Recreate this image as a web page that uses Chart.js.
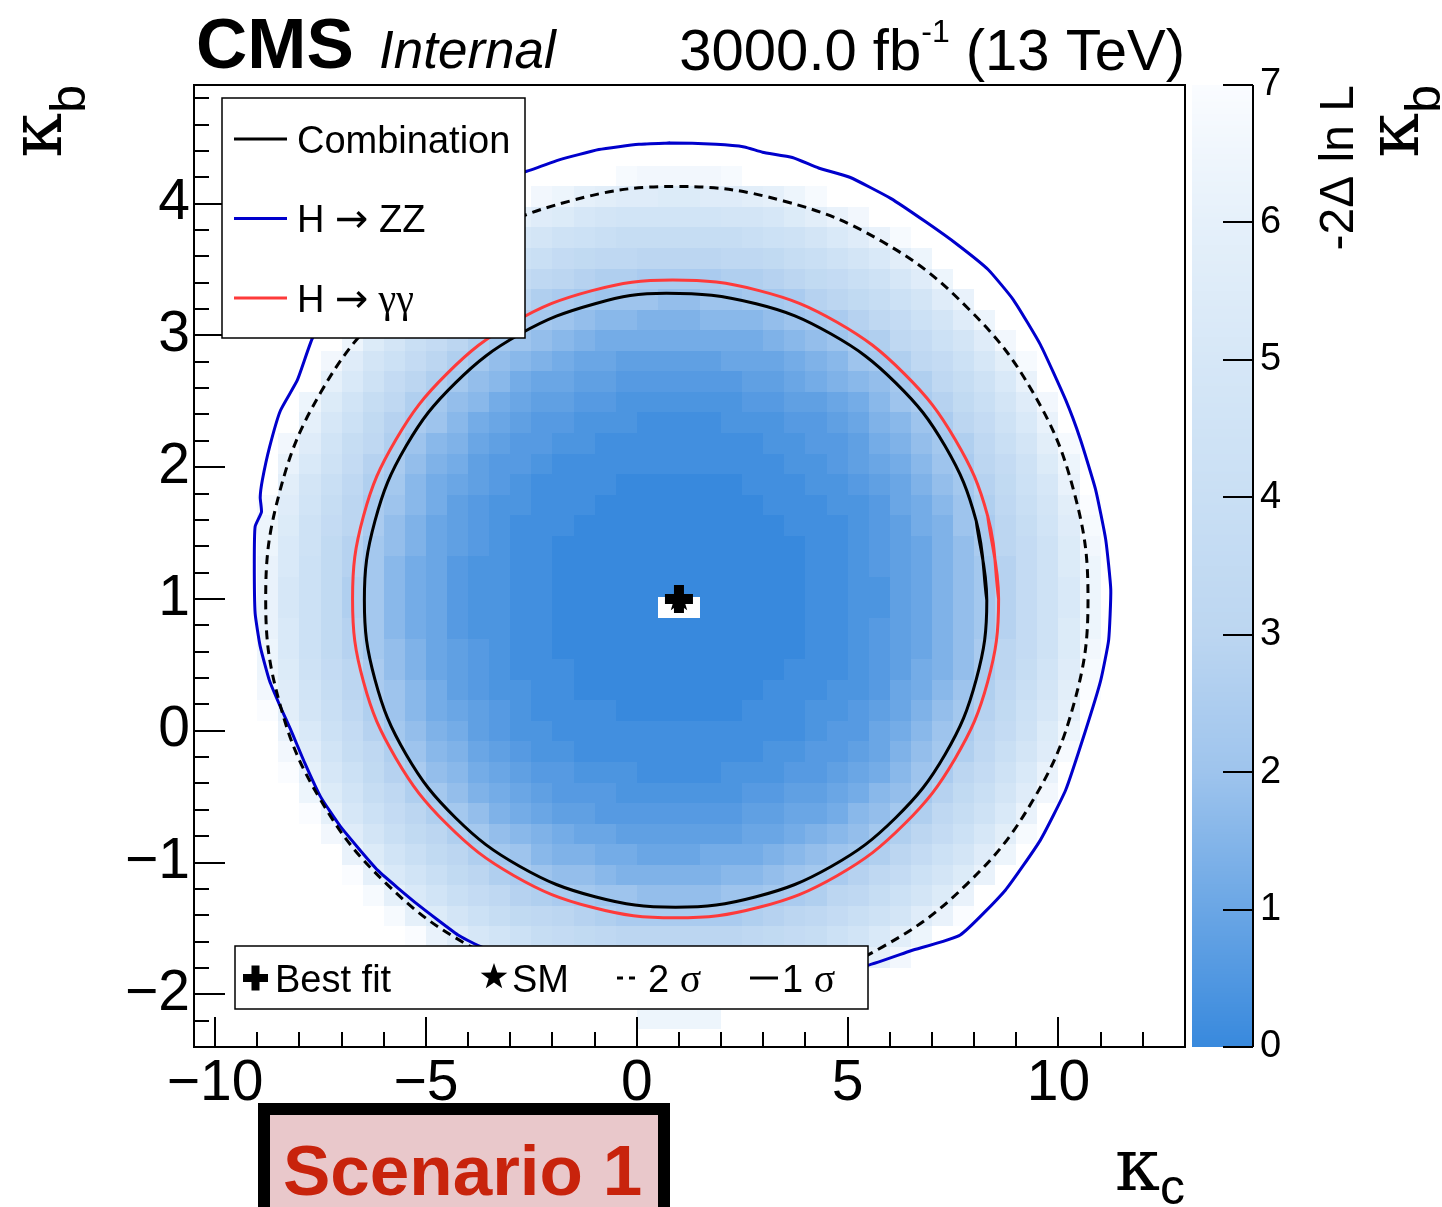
<!DOCTYPE html>
<html>
<head>
<meta charset="utf-8">
<title>kappa_b vs kappa_c likelihood scan</title>
<script src="https://cdn.jsdelivr.net/npm/chart.js@4.4.0/dist/chart.umd.min.js"></script>
<style>
  html, body { margin: 0; padding: 0; background: #fff; }
  #wrap { width: 1442px; height: 1207px; }
</style>
</head>
<body>
<div id="wrap"><canvas id="myChart" width="1442" height="1207"></canvas></div>
<script>
// ---- data ----
var xTicks = [-10, -5, 0, 5, 10];
var yTicks = [-2, -1, 0, 1, 2, 3, 4];
var zTicks = [0, 1, 2, 3, 4, 5, 6, 7];

// heat map bins: kappa_c bin centres (0.5 wide), kappa_b bin centres (0.156 wide, top row first)
var kcCenters = [-8.75, -8.25, -7.75, -7.25, -6.75, -6.25, -5.75, -5.25, -4.75, -4.25,
  -3.75, -3.25, -2.75, -2.25, -1.75, -1.25, -0.75, -0.25, 0.25, 0.75,
  1.25, 1.75, 2.25, 2.75, 3.25, 3.75, 4.25, 4.75, 5.25, 5.75,
  6.25, 6.75, 7.25, 7.75, 8.25, 8.75, 9.25, 9.75, 10.25, 10.75];
var kbCenters = [4.209, 4.053, 3.897, 3.741, 3.585, 3.429, 3.273, 3.117, 2.961, 2.805,
  2.649, 2.493, 2.337, 2.181, 2.025, 1.869, 1.713, 1.557, 1.401, 1.245,
  1.089, 0.933, 0.777, 0.621, 0.465, 0.309, 0.153, -0.003, -0.159, -0.315,
  -0.471, -0.627, -0.783, -0.939, -1.095, -1.251, -1.407, -1.563, -1.719, -1.875,
  -2.031, -2.187];
var kcBinWidth = 0.5;
var kbBinWidth = 0.156;

// -2 delta lnL per cell, one char per cell: base-36 digit = value * 5, '.' = empty cell
var nllRows = [
  ".................yxxxxy.................",
  ".............xwutssrrsstuwy.............",
  "...........xusrponnnnnooprtvx...........",
  ".........xuspomlkjjjjjjklmoqsvy.........",
  "........wtqnlkihggffffgghjkmoqtw........",
  "......zvromkigfeddccccddefhikmpsw.......",
  ".....zvroljgfdcbaaa99aabbcefhjlosv......",
  ".....vrnkigecba9887778889abcegilosw.....",
  "....wrokifdba98766666666789acdgilosx....",
  "...xsolifdb98765544444555678abdgilpty...",
  "...uqmifdb98655443333334456789bdgjmqv...",
  "..wrnjgdb986544332222223344568acehkosx..",
  "..uplheca8654332221111222334578acfimqv..",
  ".xsnjgda875433221111111122334679bdgkoty.",
  ".vqmiec9764332111111111112234568acfimrw.",
  ".tokgdb86543211110000001112234579behlpv.",
  "ysnjfca86432211100000000111223568adgkotz",
  "wrmifc975432111000000000011123467acfjnsy",
  "wqmheb9754321100000000000011234579cfimrx",
  "vqlheb8653221100000000000011234579beimrw",
  "vplhdb8653221100000000000011224579beimqw",
  "vplhdb8653221100000..0000011224579beimqw",
  "vqlheb8653221100000000000011234579beimrw",
  "wqlheb9754321100000000000011234579cfimrx",
  "wrmifc9754321110000000000111234679cfjnsy",
  "xsnjfca86432211000000000111223568adgkotz",
  "ztokgda86543211110000001112234579behlpu.",
  ".vqlieb9764322111111111111233568acfimrw.",
  ".xsnjgda875432211111111122334579bdgkosy.",
  ".zuplhec98654332221111222334568acfimqv..",
  "..wrnjgdb9765433322222233445689behkosx..",
  "..zuplifdb97654433333334455689bdgjmqv...",
  "...xsokhfdb987655444444556789bdfilpty...",
  "....vrnkhfdba87766555666789abdfilosw....",
  "....zuqnkhfdca99877777889abcegilorv.....",
  ".....yuqnkigedcbaa9999aabcdfgjlorv......",
  "......yuroljhgfedccccccdefgikmosvz......",
  ".......zvspnljihgffffffghijlnqtw........",
  ".........wurpnmkjjiiiijklmnprux.........",
  "..........ywtrqponmmmmnopqsuw...........",
  "............zxvtsrrrrrssuvx.............",
  "..................wwww.................."
];

// contours [kappa_c, kappa_b]
var comb1Sigma = [[8.30, 0.99], [8.05, 1.59], [7.31, 2.16], [6.14, 2.64], [4.61, 3.01], [2.83, 3.24],
  [0.70, 3.32], [-0.99, 3.24], [-2.77, 3.01], [-4.30, 2.64], [-5.47, 2.16], [-6.21, 1.59],
  [-6.46, 0.99], [-6.21, 0.39], [-5.47, -0.18], [-4.30, -0.66], [-2.77, -1.03], [-0.99, -1.26],
  [0.92, -1.34], [2.83, -1.26], [4.61, -1.03], [6.14, -0.66], [7.31, -0.18], [8.05, 0.39]];
var comb2Sigma = [[0.95, -2.05], [3.48, -1.95], [5.83, -1.64], [7.84, -1.16], [9.39, -0.53], [10.37, 0.21],
  [10.70, 1.00], [10.37, 1.81], [9.39, 2.57], [7.84, 3.21], [5.83, 3.71], [3.48, 4.02],
  [0.95, 4.13], [-1.58, 4.02], [-3.93, 3.71], [-5.94, 3.21], [-7.49, 2.57], [-8.47, 1.81],
  [-8.80, 1.00], [-8.47, 0.21], [-7.49, -0.53], [-5.94, -1.16], [-3.93, -1.64], [-1.58, -1.95]];
var hggContour = [[8.58, 1.00], [8.32, 1.63], [7.55, 2.21], [6.34, 2.71], [4.75, 3.10], [2.90, 3.34],
  [0.85, 3.42], [-1.06, 3.34], [-2.91, 3.10], [-4.50, 2.71], [-5.71, 2.21], [-6.48, 1.63],
  [-6.74, 1.00], [-6.48, 0.37], [-5.71, -0.21], [-4.50, -0.71], [-2.91, -1.10], [-1.06, -1.34],
  [0.92, -1.42], [2.90, -1.34], [4.75, -1.10], [6.34, -0.71], [7.55, -0.21], [8.32, 0.37]];
var hzzContour = [[0.05, 4.45], [0.79, 4.46], [1.88, 4.45], [2.55, 4.43], [2.98, 4.39], [3.69, 4.35],
  [4.31, 4.27], [5.05, 4.20], [6.02, 4.04], [6.86, 3.86], [7.60, 3.69], [8.33, 3.50], [8.93, 3.27],
  [9.57, 2.93], [10.17, 2.51], [10.52, 2.21], [10.88, 1.83], [11.12, 1.45], [11.24, 1.07],
  [11.19, 0.69], [11.00, 0.38], [10.64, 0.00], [10.17, -0.45], [9.57, -0.83], [8.74, -1.21],
  [7.67, -1.55], [6.50, -1.67], [5.48, -1.78], [3.50, -1.90], [1.00, -1.98], [-1.50, -1.92],
  [-3.76, -1.63], [-4.24, -1.55], [-5.19, -1.32], [-6.14, -1.06], [-7.02, -0.73], [-7.50, -0.50],
  [-7.88, -0.24], [-8.21, 0.01], [-8.45, 0.18], [-8.71, 0.38], [-8.93, 0.64], [-9.05, 0.89],
  [-9.07, 1.27], [-9.05, 1.55], [-8.90, 1.66], [-8.93, 1.77], [-8.88, 1.90], [-8.71, 2.15],
  [-8.45, 2.43], [-8.05, 2.66], [-7.69, 2.98], [-6.80, 3.50], [-5.50, 3.95], [-4.00, 4.18],
  [-2.67, 4.24], [-1.86, 4.33], [-0.90, 4.41]];
var bestFit = [[1.0, 1.0]];
var smPoint = [[1.0, 1.0]];

// ---- colours ----
var zStops = [0, 1, 2, 3, 4, 5, 6, 7];
var zColours = [[56, 137, 221], [106, 166, 229], [158, 196, 237], [188, 214, 241],
  [201, 223, 244], [214, 231, 247], [229, 240, 250], [250, 252, 255]];

function colourFor(v) {
  if (v <= zStops[0]) return 'rgb(' + zColours[0].join(',') + ')';
  for (var i = 1; i < zStops.length; i++) {
    if (v <= zStops[i]) {
      var t = (v - zStops[i - 1]) / (zStops[i] - zStops[i - 1]);
      var a = zColours[i - 1], b = zColours[i];
      return 'rgb(' + [0, 1, 2].map(function (k) { return Math.round(a[k] + (b[k] - a[k]) * t); }).join(',') + ')';
    }
  }
  return 'rgb(' + zColours[zColours.length - 1].join(',') + ')';
}

// closed curves: run past the start by two points so the spline has no corner at the seam
function toPoints(arr, close) {
  var pts = arr.map(function (p) { return { x: p[0], y: p[1] }; });
  if (close) {
    pts.push({ x: arr[0][0], y: arr[0][1] });
    pts.push({ x: arr[1][0], y: arr[1][1] });
  }
  return pts;
}

function makeStar(r) {
  var c = document.createElement('canvas');
  c.width = c.height = 2 * r + 2;
  var g = c.getContext('2d');
  g.fillStyle = '#000';
  g.beginPath();
  for (var i = 0; i < 10; i++) {
    var a = -Math.PI / 2 + i * Math.PI / 5;
    var rr = i % 2 ? r * 0.4 : r;
    g.lineTo(r + 1 + rr * Math.cos(a), r + 1 + rr * Math.sin(a));
  }
  g.closePath();
  g.fill();
  return c;
}

// draw text made of pieces [text, font, dy]
function drawRich(ctx, parts, x, y, align) {
  var w = 0;
  parts.forEach(function (p) { ctx.font = p[1]; w += ctx.measureText(p[0]).width; });
  var cx = align === 'right' ? x - w : (align === 'center' ? x - w / 2 : x);
  ctx.textAlign = 'left';
  ctx.textBaseline = 'alphabetic';
  parts.forEach(function (p) {
    ctx.font = p[1];
    ctx.fillText(p[0], cx, y + (p[2] || 0));
    cx += ctx.measureText(p[0]).width;
  });
}

var SANS = 'Liberation Sans, Arial, Helvetica, sans-serif';
var SERIF = 'Liberation Serif, Times New Roman, serif';
var GREEK = 'DejaVu Serif, serif';
var ARROW = 'DejaVu Sans, sans-serif';

// ---- plugins ----
var heatmapPlugin = {
  id: 'heatmap',
  beforeDatasetsDraw: function (chart) {
    var ctx = chart.ctx, ca = chart.chartArea, x = chart.scales.x, y = chart.scales.y;
    ctx.save();
    ctx.beginPath();
    ctx.rect(ca.left, ca.top, ca.right - ca.left, ca.bottom - ca.top);
    ctx.clip();
    nllRows.forEach(function (row, r) {
      var yt = Math.round(y.getPixelForValue(kbCenters[r] + kbBinWidth / 2));
      var yb = Math.round(y.getPixelForValue(kbCenters[r] - kbBinWidth / 2));
      for (var c = 0; c < row.length; c++) {
        var ch = row.charAt(c);
        if (ch === '.') continue;
        var v = parseInt(ch, 36) / 5;
        var xl = Math.round(x.getPixelForValue(kcCenters[c] - kcBinWidth / 2));
        var xr = Math.round(x.getPixelForValue(kcCenters[c] + kcBinWidth / 2));
        ctx.fillStyle = colourFor(v);
        ctx.fillRect(xl, yt, xr - xl, yb - yt);
      }
    });
    ctx.restore();
  }
};

var framePlugin = {
  id: 'frame',
  afterDatasetsDraw: function (chart) {
    var ctx = chart.ctx, ca = chart.chartArea, x = chart.scales.x, y = chart.scales.y;
    ctx.save();
    ctx.strokeStyle = '#000';
    ctx.lineWidth = 2;
    ctx.beginPath();
    for (var v = -10; v <= 13; v++) {
      var px = Math.round(x.getPixelForValue(v));
      var len = v % 5 === 0 ? 30 : 15;
      ctx.moveTo(px, ca.bottom);
      ctx.lineTo(px, ca.bottom - len);
    }
    for (var i = -12; i <= 24; i++) {
      var py = Math.round(y.getPixelForValue(i * 0.2));
      var l2 = i % 5 === 0 ? 31 : 15;
      ctx.moveTo(ca.left, py);
      ctx.lineTo(ca.left + l2, py);
    }
    ctx.stroke();
    ctx.strokeRect(ca.left, ca.top, ca.right - ca.left, ca.bottom - ca.top);
    ctx.restore();
  }
};

var decorPlugin = {
  id: 'decor',
  afterDraw: function (chart) {
    var ctx = chart.ctx, ca = chart.chartArea, z = chart.scales.z;
    ctx.save();
    ctx.fillStyle = '#000';

    // colour bar
    var barL = ca.right + 7, barR = ca.right + 68;
    for (var py = Math.round(z.top); py < Math.round(z.bottom); py++) {
      ctx.fillStyle = colourFor(z.getValueForPixel(py + 0.5));
      ctx.fillRect(barL, py, barR - barL, 1);
    }
    ctx.strokeStyle = '#000';
    ctx.lineWidth = 2;
    ctx.beginPath();
    ctx.moveTo(barR, z.top);
    ctx.lineTo(barR, z.bottom);
    zTicks.forEach(function (v) {
      var p = Math.round(z.getPixelForValue(v));
      ctx.moveTo(barR - 30, p);
      ctx.lineTo(barR, p);
    });
    ctx.stroke();

    // titles
    ctx.fillStyle = '#000';
    drawRich(ctx, [['CMS', 'bold 71px ' + SANS]], 196, 68, 'left');
    drawRich(ctx, [['Internal', 'italic 53px ' + SANS]], 379, 68, 'left');
    drawRich(ctx, [['3000.0 fb', '58px ' + SANS], ['-1', '32px ' + SANS, -28], [' (13 TeV)', '58px ' + SANS]], 1185, 70, 'right');

    // axis titles
    drawRich(ctx, [['\u03ba', '72px ' + GREEK], ['c', '50px ' + SANS, 14]], 1185, 1190, 'right');
    ctx.save();
    ctx.translate(61, ca.top);
    ctx.rotate(-Math.PI / 2);
    drawRich(ctx, [['\u03ba', '72px ' + GREEK], ['b', '50px ' + SANS, 24]], 0, 0, 'right');
    ctx.restore();
    ctx.save();
    ctx.translate(1418, ca.top);
    ctx.rotate(-Math.PI / 2);
    drawRich(ctx, [['\u03ba', '72px ' + GREEK], ['b', '50px ' + SANS, 22]], 0, 0, 'right');
    ctx.restore();
    ctx.save();
    ctx.translate(1353, ca.top);
    ctx.rotate(-Math.PI / 2);
    drawRich(ctx, [['-2\u0394 ln L', '48px ' + SANS]], 0, 0, 'right');
    ctx.restore();

    // legend: channels
    var lx = ca.left + 28, ly = ca.top + 13;
    ctx.fillStyle = '#fff';
    ctx.fillRect(lx, ly, 303, 240);
    ctx.strokeStyle = '#000';
    ctx.lineWidth = 1.5;
    ctx.strokeRect(lx, ly, 303, 240);
    var entries = [['#000', [['Combination', '38px ' + SANS]]],
      ['#0000cc', [['H ', '38px ' + SANS], ['\u2192', '40px ' + ARROW], [' ZZ', '38px ' + SANS]]],
      ['#fe3a3a', [['H ', '38px ' + SANS], ['\u2192', '40px ' + ARROW], [' \u03b3\u03b3', '40px ' + SERIF]]]];
    entries.forEach(function (e, i) {
      var cy = ly + 41 + i * 79.5;
      ctx.strokeStyle = e[0];
      ctx.lineWidth = 3;
      ctx.beginPath();
      ctx.moveTo(lx + 12, cy);
      ctx.lineTo(lx + 65, cy);
      ctx.stroke();
      ctx.fillStyle = '#000';
      drawRich(ctx, e[1], lx + 75, cy + 13.5, 'left');
    });

    // legend: markers / sigma
    var bx = ca.left + 41, by = ca.top + 861;
    ctx.fillStyle = '#fff';
    ctx.fillRect(bx, by, 633, 63);
    ctx.strokeStyle = '#000';
    ctx.lineWidth = 1.5;
    ctx.strokeRect(bx, by, 633, 63);
    var cy2 = by + 32;
    ctx.fillStyle = '#000';
    ctx.fillRect(bx + 8, cy2 - 4, 25, 8);
    ctx.fillRect(bx + 16.5, cy2 - 12.5, 8, 25);
    drawRich(ctx, [['Best fit', '38px ' + SANS]], bx + 40, cy2 + 14, 'left');
    ctx.drawImage(makeStar(14), bx + 244, cy2 - 16);
    drawRich(ctx, [['SM', '38px ' + SANS]], bx + 277, cy2 + 14, 'left');
    ctx.strokeStyle = '#000';
    ctx.lineWidth = 3;
    ctx.setLineDash([6, 6]);
    ctx.beginPath();
    ctx.moveTo(bx + 382, cy2);
    ctx.lineTo(bx + 404, cy2);
    ctx.stroke();
    ctx.setLineDash([]);
    drawRich(ctx, [['2 ', '38px ' + SANS], ['\u03c3', '40px ' + SERIF]], bx + 413, cy2 + 14, 'left');
    ctx.beginPath();
    ctx.moveTo(bx + 515, cy2);
    ctx.lineTo(bx + 543, cy2);
    ctx.stroke();
    drawRich(ctx, [['1 ', '38px ' + SANS], ['\u03c3', '40px ' + SERIF]], bx + 547, cy2 + 14, 'left');

    // scenario label
    ctx.fillStyle = '#000';
    ctx.fillRect(258, 1103, 412, 120);
    ctx.fillStyle = 'rgb(233,200,203)';
    ctx.fillRect(270, 1115, 388, 110);
    ctx.fillStyle = 'rgb(200,35,12)';
    drawRich(ctx, [['Scenario 1', 'bold 71px ' + SANS]], 283, 1195, 'left');
    ctx.restore();
  }
};

// ---- chart ----
var lineSet = function (label, pts, colour, dash) {
  return {
    label: label, data: toPoints(pts, true), showLine: true, fill: false,
    borderColor: colour, borderWidth: 3, borderDash: dash || [],
    pointRadius: 0, tension: 0.4
  };
};

var ctx = document.getElementById('myChart').getContext('2d');
var chart = new Chart(ctx, {
  type: 'scatter',
  data: {
    datasets: [
      { label: 'Best fit', data: toPoints(bestFit), pointStyle: 'cross', pointRadius: 14,
        pointBorderWidth: 10, pointBorderColor: '#000', pointBackgroundColor: '#000' },
      { label: 'SM', data: toPoints(smPoint), pointStyle: makeStar(14), pointRadius: 14 },
      lineSet('Combination 2 sigma', comb2Sigma, '#000', [9, 6]),
      lineSet('Combination 1 sigma', comb1Sigma, '#000'),
      lineSet('H -> gamma gamma', hggContour, '#fe3a3a'),
      Object.assign(lineSet('H -> ZZ', hzzContour, '#0000cc'), { tension: 0.15 })
    ]
  },
  options: {
    responsive: false,
    devicePixelRatio: 1,
    animation: false,
    layout: { padding: { left: 0, top: 85, right: 0, bottom: 0 } },
    plugins: { legend: { display: false }, tooltip: { enabled: false } },
    scales: {
      x: {
        type: 'linear', position: 'bottom', min: -10.5, max: 13,
        grid: { display: false, drawTicks: false }, border: { display: false },
        afterBuildTicks: function (s) { s.ticks = xTicks.map(function (v) { return { value: v }; }); },
        afterFit: function (s) { s.height = 160; },
        ticks: {
          autoSkip: false, padding: 3, color: '#000', font: { family: SANS, size: 57 },
          callback: function (v) { return String(v).replace('-', '\u2212'); }
        }
      },
      y: {
        type: 'linear', position: 'left', min: -2.4, max: 4.9,
        grid: { display: false, drawTicks: false }, border: { display: false },
        afterBuildTicks: function (s) { s.ticks = yTicks.map(function (v) { return { value: v }; }); },
        afterFit: function (s) { s.width = 194; },
        ticks: {
          autoSkip: false, padding: 4, color: '#000', font: { family: SANS, size: 57 },
          callback: function (v) { return String(v).replace('-', '\u2212'); }
        }
      },
      z: {
        type: 'linear', position: 'right', min: 0, max: 7,
        grid: { display: false, drawTicks: true, tickLength: 70 }, border: { display: false },
        afterBuildTicks: function (s) { s.ticks = zTicks.map(function (v) { return { value: v }; }); },
        afterFit: function (s) { s.width = 257; },
        ticks: { autoSkip: false, padding: 5, color: '#000', font: { family: SANS, size: 38 } }
      }
    }
  },
  plugins: [heatmapPlugin, framePlugin, decorPlugin]
});
</script>
</body>
</html>
